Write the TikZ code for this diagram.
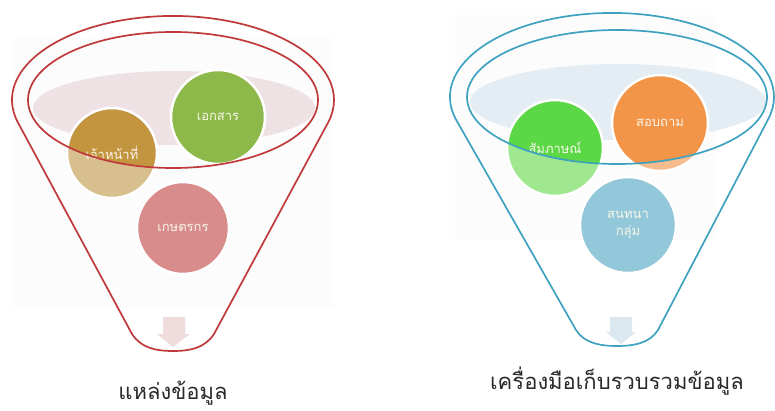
\documentclass[tikz,border=0pt]{standalone}
\usepackage{fontspec}
\newfontfamily\thai[Script=Thai]{Loma}
\definecolor{redline}{HTML}{C03A3C}
\definecolor{blueline}{HTML}{3FA2C0}
\definecolor{palepink}{HTML}{EFE2E4}
\definecolor{paleblue}{HTML}{E3EDF3}
\definecolor{goldD}{HTML}{C3953F}
\definecolor{goldL}{HTML}{D8BF8E}
\definecolor{olive}{HTML}{8DB94B}
\definecolor{rose}{HTML}{D98C8C}
\definecolor{limeD}{HTML}{5CD846}
\definecolor{limeL}{HTML}{A0E890}
\definecolor{orgD}{HTML}{F39548}
\definecolor{orgL}{HTML}{F6BC8E}
\definecolor{sky}{HTML}{92C8DA}
\definecolor{arrowpink}{HTML}{F0DCDC}
\definecolor{arrowblue}{HTML}{DCE8F0}
\definecolor{labeltext}{HTML}{2A2A2A}
\definecolor{cream}{HTML}{FAF6EA}
\tikzset{
  ball/.style={circle, draw=white, line width=2.5pt, inner sep=0pt},
  balltext/.style={text=cream, font=\thai\fontsize{13}{17}\selectfont, align=center},
  outline/.style={line width=1.7pt},
  biglabel/.style={text=labeltext, font=\thai\fontsize{22}{26}\selectfont},
}
\begin{document}
\begin{tikzpicture}[x=1pt,y=1pt]
\useasboundingbox (0,0) rectangle (775,410);
\fill[white] (0,0) rectangle (775,410);
% faint picture backgrounds
\fill[black!1.3] (13,103) rectangle (333,372);
\fill[black!1.3] (455,170) rectangle (717,395);
% ---------- left funnel ----------
\fill[palepink] (174,302) ellipse [x radius=141, y radius=37];
\node[ball, fill=goldL, minimum size=90] (c1) at (112,257) {};
\node[ball, fill=olive, minimum size=94] (c2) at (218,293) {};
\node[ball, fill=rose, minimum size=92] (c3) at (183,182) {};
\begin{scope}
  \clip (173,310) ellipse [x radius=145, y radius=68];
  \fill[goldD] (c1) circle [radius=43.5];
\end{scope}
\node[balltext] at (c1) {เจ้าหน้าที่};
\node[balltext] at (c2) {เอกสาร};
\node[balltext] at (c3) {เกษตรกร};
\fill[arrowpink] (163,93) -- (185,93) -- (185,76) -- (190,76) -- (173,63) -- (157,76) -- (163,76) -- cycle;
\draw[redline, outline] (173,310) ellipse [x radius=145, y radius=68];
\draw[redline, outline] (17.5,288.3) arc[start angle=195, end angle=-15, x radius=161, y radius=84]
  -- (214,76) .. controls (205,62) and (190,59) .. (173,59) .. controls (156,59) and (141,62) .. (132,76) -- cycle;
\node[biglabel] (lab1) at (173,17) {แหล่งข้อมูล};
% ---------- right funnel ----------
\fill[paleblue] (618,308) ellipse [x radius=148, y radius=38];
\node[ball, fill=limeL, minimum size=96] (d1) at (555,262) {};
\node[ball, fill=orgL, minimum size=96] (d2) at (660,287) {};
\node[ball, fill=sky, minimum size=96] (d3) at (628,185) {};
\begin{scope}
  \clip (617,313) ellipse [x radius=150, y radius=67];
  \fill[limeD] (d1) circle [radius=46.5];
  \fill[orgD] (d2) circle [radius=46.5];
\end{scope}
\node[balltext] at (d1) {สัมภาษณ์};
\node[balltext] at (d2) {สอบถาม};
\node[balltext] at (d3) {สนทนา\\กลุ่ม};
\fill[arrowblue] (610,93) -- (632,93) -- (632,78) -- (636,78) -- (621,66) -- (606,78) -- (610,78) -- cycle;
\draw[blueline, outline] (617,313) ellipse [x radius=150, y radius=67];
\draw[blueline, outline] (455.5,291.3) arc[start angle=195, end angle=-15, x radius=162, y radius=84]
  -- (658,80) .. controls (650,67) and (634,64) .. (617,64) .. controls (600,64) and (584,67) .. (576,80) -- cycle;
\node[biglabel] (lab2) at (617,29) {เครื่องมือเก็บรวบรวมข้อมูล};
\end{tikzpicture}
\end{document}
